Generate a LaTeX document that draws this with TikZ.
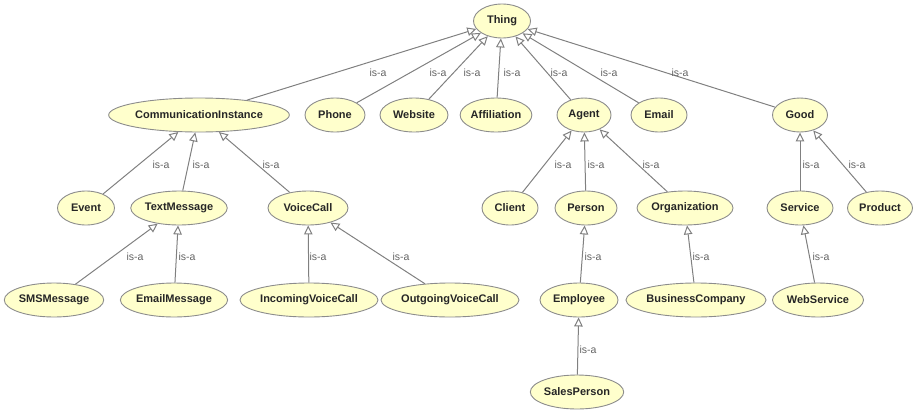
\documentclass[tikz,border=0pt]{standalone}
\usepackage{fontspec}
\setmainfont{Liberation Sans}
\usetikzlibrary{shapes.geometric,arrows.meta}
\definecolor{classfill}{RGB}{255,255,204}
\definecolor{classline}{RGB}{140,140,140}
\definecolor{edgeline}{RGB}{128,128,128}
\definecolor{labelgray}{RGB}{100,100,100}
\tikzset{
  cls/.style={ellipse, draw=classline, fill=classfill, line width=0.9pt,
    minimum height=34pt, inner sep=0pt,
    font=\bfseries\fontsize{11}{13}\selectfont, text=black!85},
  isa/.style={draw=edgeline, line width=1pt,
    -{Triangle[open, length=9pt, width=8.5pt]}},
  lbl/.style={font=\fontsize{10.5}{12}\selectfont, text=labelgray, inner sep=0pt}
}
\begin{document}
\begin{tikzpicture}[x=1pt, y=-1pt]
\useasboundingbox (0,0) rectangle (916,410);

% root
\node[cls, minimum width=57pt] (thing) at (502,21) {Thing};

% second level
\node[cls, minimum width=162pt] (comm)  at (199,115) {CommunicationInstance};
\node[cls, minimum width=60pt]  (phone) at (335,115) {Phone};
\node[cls, minimum width=68pt]  (web)   at (414,115) {Website};
\node[cls, minimum width=66pt]  (aff)   at (496,115) {Affiliation};
\node[cls, minimum width=54pt]  (agent) at (584,115) {Agent};
\node[cls, minimum width=56pt]  (email) at (659,115) {Email};
\node[cls, minimum width=55pt]  (good)  at (800,115) {Good};

% third level
\node[cls, minimum width=57pt]  (event)  at (86,208)  {Event};
\node[cls, minimum width=96pt]  (text)   at (179,208) {TextMessage};
\node[cls, minimum width=80pt]  (voice)  at (308,208) {VoiceCall};
\node[cls, minimum width=56pt]  (client) at (510,208) {Client};
\node[cls, minimum width=62pt]  (person) at (586,208) {Person};
\node[cls, minimum width=96pt]  (org)    at (685,208) {Organization};
\node[cls, minimum width=66pt]  (serv)   at (800,208) {Service};
\node[cls, minimum width=65pt]  (prod)   at (880,208) {Product};

% fourth level
\node[cls, minimum width=98pt]  (sms)   at (54,300)  {SMSMessage};
\node[cls, minimum width=105pt] (emsg)  at (174,300) {EmailMessage};
\node[cls, minimum width=135pt] (incal) at (309,300) {IncomingVoiceCall};
\node[cls, minimum width=120pt] (outcal) at (450,300) {OutgoingVoiceCall};
\node[cls, minimum width=78pt]  (empl)  at (579,300) {Employee};
\node[cls, minimum width=124pt] (bcomp) at (696,300) {BusinessCompany};
\node[cls, minimum width=91pt]  (wserv) at (818,300) {WebService};

% fifth level
\node[cls, minimum width=91pt]  (sales) at (577,392) {SalesPerson};

% subclass links
\draw[isa] (comm)  -- (thing);
\draw[isa] (phone) -- (thing);
\draw[isa] (web)   -- (thing);
\draw[isa] (aff)   -- (thing);
\draw[isa] (agent) -- (thing);
\draw[isa] (email) -- (thing);
\draw[isa] (good)  -- (thing);

\draw[isa] (event) -- (comm);
\draw[isa] (text)  -- (comm);
\draw[isa] (voice) -- (comm);
\draw[isa] (client) -- (agent);
\draw[isa] (person) -- (agent);
\draw[isa] (org)    -- (agent);
\draw[isa] (serv)   -- (good);
\draw[isa] (prod)   -- (good);

\draw[isa] (sms)    -- (text);
\draw[isa] (emsg)   -- (text);
\draw[isa] (incal)  -- (voice);
\draw[isa] (outcal) -- (voice);
\draw[isa] (empl)   -- (person);
\draw[isa] (bcomp)  -- (org);
\draw[isa] (wserv)  -- (serv);

\draw[isa] (sales)  -- (empl);

% link labels
\node[lbl] (l1)  at (378,73) {is-a};
\node[lbl] (l2)  at (438,73) {is-a};
\node[lbl] (l3)  at (472,73) {is-a};
\node[lbl] (l4)  at (512,73) {is-a};
\node[lbl] (l5)  at (559,73) {is-a};
\node[lbl] (l6)  at (609,73) {is-a};
\node[lbl] (l7)  at (680,73) {is-a};

\node[lbl] (l8)  at (161,165) {is-a};
\node[lbl] (l9)  at (201,165) {is-a};
\node[lbl] (l10) at (271,165) {is-a};
\node[lbl] (l11) at (563,165) {is-a};
\node[lbl] (l12) at (596,165) {is-a};
\node[lbl] (l13) at (651,165) {is-a};
\node[lbl] (l14) at (811,165) {is-a};
\node[lbl] (l15) at (857,165) {is-a};

\node[lbl] (l16) at (135,257) {is-a};
\node[lbl] (l17) at (187,257) {is-a};
\node[lbl] (l18) at (318,257) {is-a};
\node[lbl] (l19) at (401,257) {is-a};
\node[lbl] (l20) at (593,257) {is-a};
\node[lbl] (l21) at (701,257) {is-a};
\node[lbl] (l22) at (821,257) {is-a};

\node[lbl] (l23) at (588,350) {is-a};
\end{tikzpicture}
\end{document}
